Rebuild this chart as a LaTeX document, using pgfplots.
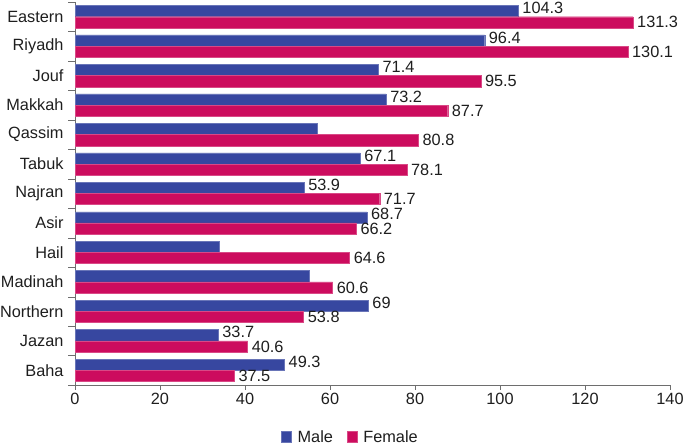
\documentclass[border=0pt]{standalone}
\usepackage{pgfplots}
\pgfplotsset{compat=1.18}
\usepackage{fontspec}
\setmainfont{Liberation Sans}
\definecolor{male}{RGB}{55,71,160}
\definecolor{female}{RGB}{204,12,94}
\definecolor{axgray}{RGB}{110,110,110}
\definecolor{txt}{RGB}{30,30,30}
\newcommand{\lblfont}{\fontsize{16.3}{19}\selectfont}
\begin{document}
\begin{tikzpicture}
\begin{axis}[
  at={(75pt,62pt)}, anchor=south west,
  scale only axis, width=595pt, height=383pt,
  xbar, bar width=0.38,
  xmin=0, xmax=140, ymin=-0.5, ymax=12.5,
  xtick={0,20,...,140},
  ytick={0,...,12},
  yticklabels={Baha,Jazan,Northern,Madinah,Hail,Asir,Najran,Tabuk,Qassim,Makkah,Jouf,Riyadh,Eastern},
  minor ytick={-0.5,0.5,...,12.5},
  axis x line*=bottom, axis y line*=left,
  axis line style={axgray, -},
  tick align=outside,
  major tick length=5pt, minor tick length=7pt,
  major y tick style={draw=none},
  minor y tick style={axgray},
  xtick style={axgray},
  tick label style={font=\lblfont, text=txt},
  yticklabel style={xshift=-3pt},
  /pgf/number format/assume math mode=true,
  nodes near coords, point meta=explicit symbolic,
  nodes near coords style={font=\lblfont, text=txt, anchor=west, inner sep=1pt, xshift=3pt},
  legend style={at={(0.463,-0.136)}, anchor=center, draw=none, legend columns=2, font=\lblfont, text=txt,
    /tikz/every odd column/.append style={column sep=4pt},
    /tikz/every even column/.append style={column sep=12pt}},
  legend image code/.code={\fill[#1] (0pt,-5.5pt) rectangle (10pt,5.5pt);},
]
\addplot[fill=male, draw=male!75!white, bar shift=0.19, nodes near coords style={yshift=3pt}] coordinates {
 (49.3,0) [49.3]
 (33.7,1) [33.7]
 (69,2) [69]
 (55.2,3) []
 (34.0,4) []
 (68.7,5) [68.7]
 (53.9,6) [53.9]
 (67.1,7) [67.1]
 (57.0,8) []
 (73.2,9) [73.2]
 (71.4,10) [71.4]
 (96.4,11) [96.4]
 (104.3,12) [104.3]
};
\addplot[fill=female, draw=female!75!white, bar shift=-0.19] coordinates {
 (37.5,0) [37.5]
 (40.6,1) [40.6]
 (53.8,2) [53.8]
 (60.6,3) [60.6]
 (64.6,4) [64.6]
 (66.2,5) [66.2]
 (71.7,6) [71.7]
 (78.1,7) [78.1]
 (80.8,8) [80.8]
 (87.7,9) [87.7]
 (95.5,10) [95.5]
 (130.1,11) [130.1]
 (131.3,12) [131.3]
};
\legend{Male,Female}
\end{axis}
\pgfresetboundingbox
\path[use as bounding box] (0,0) rectangle (685pt,447pt);
\end{tikzpicture}
\end{document}
